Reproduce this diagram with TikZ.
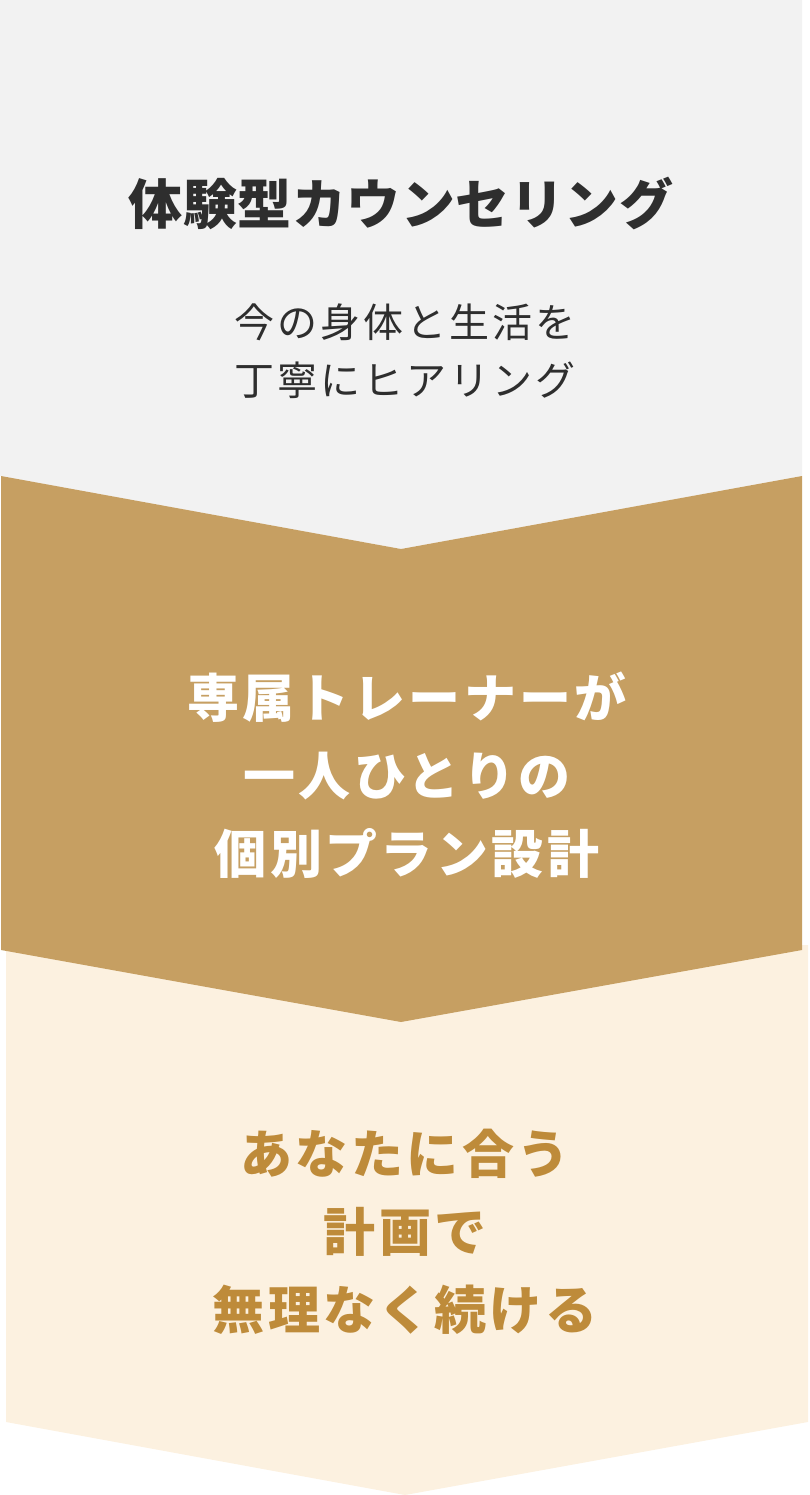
\documentclass[tikz,border=0pt]{standalone}
\usepackage{fontspec}
\newfontfamily\jptitle[LetterSpace=1]{Noto Sans CJK JP}
\newfontfamily\jphead[LetterSpace=6.5]{Noto Sans CJK JP}
\newfontfamily\jpsub[LetterSpace=7.5]{Noto Sans CJK JP}
\definecolor{topgray}{HTML}{F2F2F2}
\definecolor{tan}{HTML}{C69F62}
\definecolor{cream}{HTML}{FCF1E0}
\definecolor{ink}{HTML}{2E2E2E}
\definecolor{gold}{HTML}{BE8B3A}
\tikzset{
  headtext/.style={align=center, inner sep=0pt, font=\jphead\bfseries\fontsize{52}{78}\selectfont},
  subtext/.style={align=center, inner sep=0pt, font=\jpsub\fontsize{40}{58}\selectfont, text=ink},
}
\begin{document}
\begin{tikzpicture}[x=1pt,y=-1pt]
\useasboundingbox (0,0) rectangle (809,1495);
% sections
\fill[topgray] (0,0) -- (802,0) -- (802,476) -- (401,549) -- (0,476) -- cycle;
\fill[cream] (6,945) -- (808,945) -- (808,1422) -- (405,1495) -- (6,1422) -- cycle;
\fill[tan] (1,476) -- (401,549) -- (802,476) -- (802,950) -- (401,1022) -- (1,950) -- cycle;
% texts
\node[headtext, text=ink, font=\jptitle\bfseries\fontsize{54}{78}\selectfont] (title) at (401,203) {体験型カウンセリング};
\node[subtext] (sub) at (405,351) {今の身体と生活を\\丁寧にヒアリング};
\node[headtext, text=white] (mid) at (407,775) {専属トレーナーが\\一人ひとりの\\個別プラン設計};
\node[headtext, text=gold] (low) at (405,1232) {あなたに合う\\計画で\\無理なく続ける};
\end{tikzpicture}
\end{document}
